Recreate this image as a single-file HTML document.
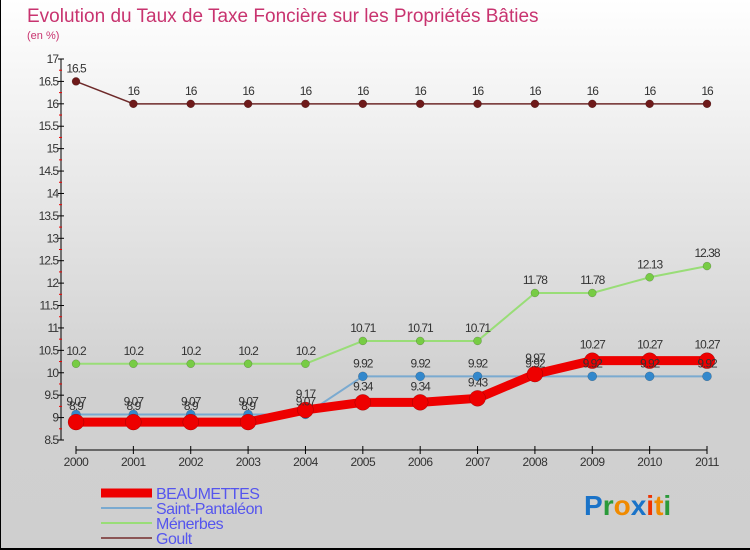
<!DOCTYPE html>
<html><head><meta charset="utf-8"><style>
html,body{margin:0;padding:0}
body{width:750px;height:550px;overflow:hidden;font-family:"Liberation Sans",sans-serif}
#wrap{position:relative;width:750px;height:550px;background:linear-gradient(#ffffff,#d0d0d0 70%,#cfcfcf);border-left:1px solid #000;border-bottom:2px solid #000;box-sizing:border-box}
svg{position:absolute;left:0;top:0}
</style></head><body>
<div id="wrap">
<svg id="c" width="750" height="550"></svg>
</div>
<script>
const years=['2000','2001','2002','2003','2004','2005','2006','2007','2008','2009','2010','2011'];
const beaumettes=[8.9,8.9,8.9,8.9,9.17,9.34,9.34,9.43,9.97,10.27,10.27,10.27];
const saintPantaleon=[9.07,9.07,9.07,9.07,9.07,9.92,9.92,9.92,9.92,9.92,9.92,9.92];
const menerbes=[10.2,10.2,10.2,10.2,10.2,10.71,10.71,10.71,11.78,11.78,12.13,12.38];
const goult=[16.5,16,16,16,16,16,16,16,16,16,16,16];
const yTicks=[8.5,9,9.5,10,10.5,11,11.5,12,12.5,13,13.5,14,14.5,15,15.5,16,16.5,17];
const legendNames=['BEAUMETTES','Saint-Pantaléon','Ménerbes','Goult'];

const NS='http://www.w3.org/2000/svg';
const svg=document.getElementById('c');
function mk(t,a,p){const e=document.createElementNS(NS,t);for(const k in a)e.setAttribute(k,a[k]);(p||svg).appendChild(e);return e;}
const x=i=>75+i*(706-75)/(years.length-1);
const y=v=>440-(v-8.5)*(440-59)/(17-8.5);

let t=mk('text',{x:26,y:22,'font-size':19,fill:'#c8336f'});t.textContent='Evolution du Taux de Taxe Foncière sur les Propriétés Bâties';

t=mk('text',{x:26,y:39,'font-size':11,fill:'#c8336f'});t.textContent='(en %)';


let ax=mk('line',{x1:60,y1:59,x2:60,y2:440,stroke:'#000','stroke-width':1});

yTicks.forEach((v,i)=>{
  mk('line',{x1:57,y1:y(v),x2:63,y2:y(v),stroke:'#000'});
  if(i<yTicks.length-1){const m=y(v+0.25);mk('line',{x1:58,y1:m,x2:61,y2:m,stroke:'#e00'});}
  const l=mk('text',{x:57,y:y(v)+4,'font-size':12,'text-anchor':'end',fill:'#333','letter-spacing':'-1'});l.textContent=String(v);
  
});
ax=mk('line',{x1:75,y1:450,x2:706,y2:450,stroke:'#000'});

years.forEach((yr,i)=>{
  mk('line',{x1:x(i),y1:446,x2:x(i),y2:454,stroke:'#000'});
  const l=mk('text',{x:x(i),y:466,'font-size':12,'text-anchor':'middle',fill:'#333','letter-spacing':'-0.5'});l.textContent=yr;
  
});

const series=[
  {d:goult,c:'#6e2a2a',w:1.5,r:4,f:'#6e1a1a',name:'goult'},
  {d:menerbes,c:'#99dd77',w:2,r:4,f:'#77cc44',name:'menerbes'},
  {d:saintPantaleon,c:'#7aaad0',w:2,r:4.5,f:'#3388cc',name:'saint-pantaleon'},
  {d:beaumettes,c:'#ee0000',w:9,r:8,f:'#ee0000',name:'beaumettes'}
];
series.forEach(s=>{
  const g=mk('g',{});
  mk('polyline',{points:s.d.map((v,i)=>x(i)+','+y(v)).join(' '),fill:'none',stroke:s.c,'stroke-width':s.w,'stroke-linejoin':'round'},g);
  s.d.forEach((v,i)=>{
    const p=mk('circle',{cx:x(i),cy:y(v),r:s.r,fill:s.f,stroke:'rgba(0,0,0,0.3)','stroke-width':0.5},g);
    
  });
});
series.forEach(s=>{
  s.d.forEach((v,i)=>{
    const l=mk('text',{x:x(i),y:y(v)-(s.name==='beaumettes'?12:9),'font-size':12,'text-anchor':'middle',fill:'#333','letter-spacing':'-1'});
    l.textContent=String(v);
    
  });
});

const lc=[['#ee0000',9],['#7aaad0',2],['#99dd77',2],['#8b5555',2]];
legendNames.forEach((n,i)=>{
  const yy=493+i*15;
  const g=mk('g',{});
  mk('line',{x1:100,y1:yy,x2:151,y2:yy,stroke:lc[i][0],'stroke-width':lc[i][1]},g);
  const l=mk('text',{x:155,y:yy+6,'font-size':16,fill:'#5555ee','letter-spacing':'-0.5'},g);l.textContent=n;
});

const lg=mk('text',{x:583,y:515,'font-size':28,'font-weight':'bold'});

[['P','#1a73c8'],['r','#2a9a3a'],['o','#f08a00'],['x','#1a73c8'],['i','#ee3300'],['t','#f08a00'],['i','#2a9a3a']].forEach(([ch,c])=>{
  const s=mk('tspan',{fill:c},lg);s.textContent=ch;
});
</script>
</body></html>
